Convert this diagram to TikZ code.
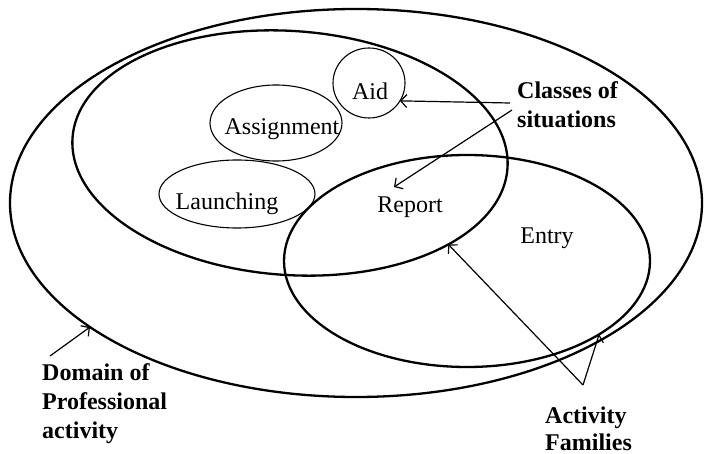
\documentclass[tikz,border=0pt]{standalone}
\usepackage{fontspec}
\setmainfont{Liberation Serif}
\usetikzlibrary{shapes.geometric,arrows.meta}
\begin{document}
\begin{tikzpicture}[x=1pt,y=-1pt,
  region/.style={ellipse, draw, line width=2.3pt, inner sep=0pt, outer sep=0pt},
  situation/.style={ellipse, draw, line width=1.1pt, inner sep=0pt, outer sep=0pt},
  lbl/.style={font=\fontsize{24}{29}\selectfont, inner sep=0pt, anchor=base},
  note/.style={font=\fontsize{24}{29}\selectfont\bfseries, align=left, inner sep=0pt, anchor=base west},
  pointer/.style={line width=1.2pt, -{Straight Barb[length=6pt,width=13pt]}}]
\useasboundingbox (0,0) rectangle (704,454);

% activity domain and its two families
\node[region, minimum width=692pt, minimum height=388pt] (domain) at (356,203) {};
\node[region, minimum width=436pt, minimum height=244pt, rotate=-4] (family1) at (290,153) {};
\node[region, minimum width=366pt, minimum height=212pt] (family2) at (467,261) {};

% classes of situations
\node[situation, minimum width=72pt, minimum height=70pt] (aid) at (369,83) {};
\node[situation, minimum width=132pt, minimum height=76pt] (assign) at (276,123) {};
\node[situation, minimum width=156pt, minimum height=68pt] (launch) at (237,194) {};

\node[lbl] (aidtxt) at (370,100) {Aid};
\node[lbl] (assigntxt) at (282,135) {Assignment};
\node[lbl] (launchtxt) at (227,210) {Launching};
\node[lbl] (report) at (410,213) {Report};
\node[lbl] (entry) at (547,244) {Entry};

% annotations (base anchor sits on the last line)
\node[note] (classes) at (517,128) {Classes of\\situations};
\node[note] (dom) at (42,438) {Domain of\\Professional\\activity};
\node[note, font=\fontsize{24}{27}\selectfont\bfseries] (fam) at (545,450) {Activity\\Families};

\coordinate (cs1) at (510,103);
\coordinate (cs2) at (512,110);
\coordinate (reportpt) at (394,187);
\coordinate (dm) at (50,356);
\coordinate (af) at (583,385);

\draw[pointer] (cs1) -- (aid.-30);
\draw[pointer] (cs2) -- (reportpt);
\draw[pointer] (dm) -- (domain.205);
\draw[pointer] (af) -- (family1.-26);
\draw[pointer] (af) -- (family2.-29);
\end{tikzpicture}
\end{document}
